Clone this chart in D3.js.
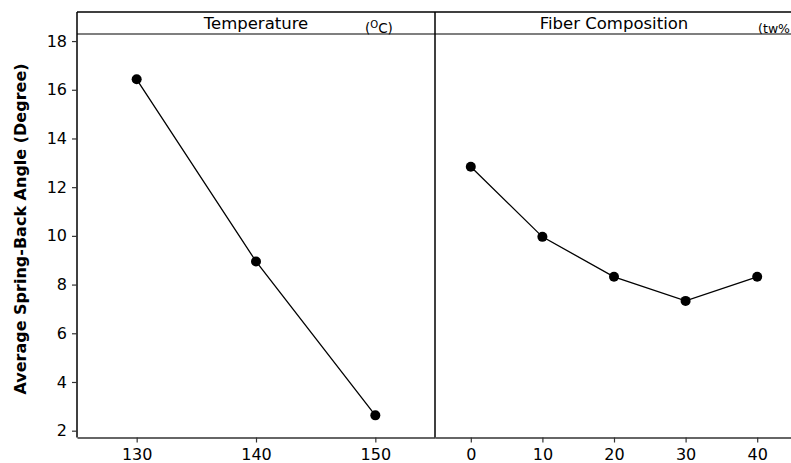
<!DOCTYPE html>
<html>
<head>
<meta charset="utf-8">
<script src="https://cdn.jsdelivr.net/npm/d3@7"></script>
<style>
  body { margin: 0; background: #fff; }
  text { font-family: "DejaVu Sans", Verdana, sans-serif; fill: #000; }
</style>
</head>
<body>
<div id="chart"></div>
<script>
// Main effects data
const tempLevels = [130, 140, 150];
const tempMeans = [16.43, 8.95, 2.63];
const fiberLevels = [0, 10, 20, 30, 40];
const fiberMeans = [12.84, 9.96, 8.32, 7.33, 8.32];
const yTicks = [2, 4, 6, 8, 10, 12, 14, 16, 18];

const width = 791, height = 463;
const plotTop = 12, headerH = 22, plotBottom = 437.5;
const panelW = 358, plotLeft = 77;

const svg = d3.select('#chart')
    .append('svg')
    .attr('width', width)
    .attr('height', height);

// Scales
const yScale = d3.scaleLinear()
    .domain([1.72, 18.29])
    .range([plotBottom, plotTop + headerH]);

const panels = [
    {title: 'Temperature', x0: plotLeft, domain: [125, 155], levels: tempLevels, means: tempMeans},
    {title: 'Fiber Composition', x0: plotLeft + panelW, domain: [-5, 45], levels: fiberLevels, means: fiberMeans}
];

panels.forEach(p => {
    const x = d3.scaleLinear().domain(p.domain).range([p.x0, p.x0 + panelW]);
    const g = svg.append('g');

    // Bottom axis
    g.append('g')
        .attr('transform', `translate(0,${plotBottom})`)
        .call(d3.axisBottom(x).tickValues(p.levels).tickSize(5).tickSizeOuter(0).tickPadding(6))
        .call(a => a.select('.domain').attr('stroke', '#333').attr('stroke-width', 1.5))
        .call(a => a.selectAll('.tick line').attr('stroke', '#333').attr('stroke-width', 1.2))
        .call(a => a.selectAll('.tick text')
            .style('font-size', '16px')
            .style('font-family', '"DejaVu Sans", Verdana, sans-serif'));

    // Header strip
    g.append('line')
        .attr('x1', p.x0).attr('x2', p.x0 + panelW)
        .attr('y1', plotTop).attr('y2', plotTop)
        .attr('stroke', '#000').attr('stroke-width', 1.5);
    g.append('line')
        .attr('x1', p.x0).attr('x2', p.x0 + panelW)
        .attr('y1', plotTop + headerH).attr('y2', plotTop + headerH)
        .attr('stroke', '#000').attr('stroke-width', 1.2);
    g.append('line')
        .attr('x1', p.x0).attr('x2', p.x0)
        .attr('y1', plotTop).attr('y2', plotBottom)
        .attr('stroke', '#000').attr('stroke-width', 1.5);

    g.append('text')
        .attr('x', p.x0 + panelW / 2)
        .attr('y', plotTop + 17)
        .attr('text-anchor', 'middle')
        .style('font-size', '16.5px')
        .text(p.title);

    // Mean line and points
    const pts = p.levels.map((l, i) => ({x: l, y: p.means[i]}));
    const line = d3.line().x(d => x(d.x)).y(d => yScale(d.y));
    g.append('path')
        .datum(pts)
        .attr('d', line)
        .attr('fill', 'none')
        .attr('stroke', '#000')
        .attr('stroke-width', 1.3);
    g.selectAll('.pt')
        .data(pts)
        .enter()
        .append('circle')
        .attr('class', 'pt')
        .attr('cx', d => x(d.x))
        .attr('cy', d => yScale(d.y))
        .attr('r', 5)
        .attr('fill', '#000');
});

// Unit labels in header
const unitC = svg.append('text')
    .attr('x', 365)
    .attr('y', plotTop + 21)
    .style('font-size', '13.5px');
unitC.append('tspan').text('(');
unitC.append('tspan').attr('dy', -5).style('font-size', '10px').text('O');
unitC.append('tspan').attr('dy', 5).text('C)');

svg.append('text')
    .attr('x', 790)
    .attr('y', plotTop + 21)
    .attr('text-anchor', 'end')
    .style('font-size', '12.5px')
    .text('(tw%');

// Y axis
svg.append('g')
    .attr('transform', `translate(${plotLeft},0)`)
    .call(d3.axisLeft(yScale).tickValues(yTicks).tickSize(5).tickSizeOuter(0).tickPadding(5))
    .call(a => a.select('.domain').remove())
    .call(a => a.selectAll('.tick line').attr('stroke', '#333').attr('stroke-width', 1.2))
    .call(a => a.selectAll('.tick text')
        .style('font-size', '16px')
        .style('font-family', '"DejaVu Sans", Verdana, sans-serif'));

svg.append('text')
    .attr('transform', 'rotate(-90)')
    .attr('x', -229)
    .attr('y', 26)
    .attr('text-anchor', 'middle')
    .style('font-size', '16px')
    .style('font-weight', 'bold')
    .text('Average Spring-Back Angle (Degree)');
</script>
</body>
</html>
